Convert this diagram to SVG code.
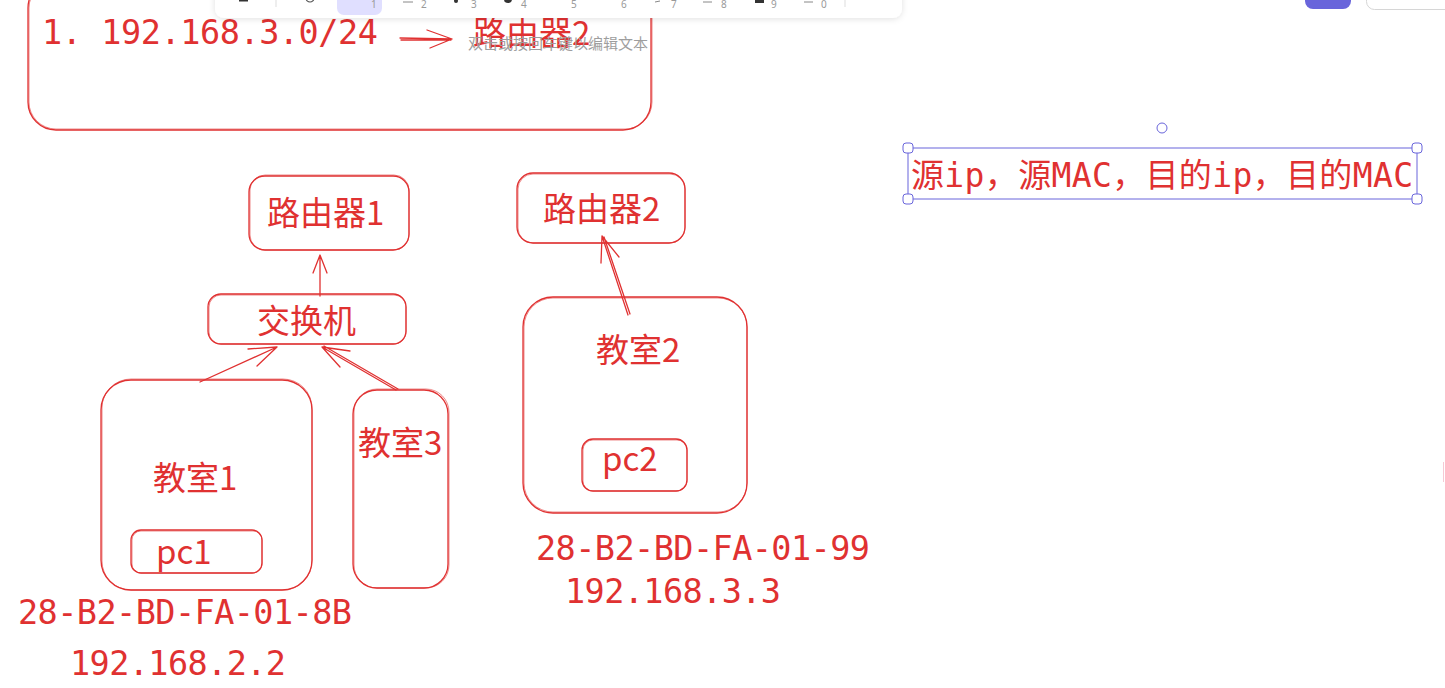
<svg xmlns="http://www.w3.org/2000/svg" width="1445" height="688" viewBox="0 0 1445 688">
<defs>
<style>
.s{fill:none;stroke:#e03131;stroke-width:1.3;stroke-linecap:round;stroke-linejoin:round}
.s2{fill:none;stroke:#e03131;stroke-width:0.8;opacity:.7}
.c{fill:none;stroke:#e03131;stroke-width:1.3;stroke-linecap:round;stroke-linejoin:round}
.cj{font-family:"Noto Sans CJK SC","Noto Sans",sans-serif;fill:#e03131}
.mo{font-family:"DejaVu Sans Mono","Noto Sans CJK SC",monospace;fill:#e03131}
.num{font-family:"Noto Sans","Liberation Sans",sans-serif;font-size:10px;fill:#9a9a9a}
.hd{fill:#fff;stroke:#6965db;stroke-width:1}
</style>
<filter id="sh" x="-5%" y="-60%" width="110%" height="260%">
<feDropShadow dx="0" dy="1" stdDeviation="3" flood-color="#000" flood-opacity="0.12"/>
</filter>
</defs>
<rect width="1445" height="688" fill="#fff"/>

<g id="note-top">
<rect class="s" x="28" y="-20" width="623" height="150" rx="28"/>
<rect class="s2" x="29" y="-19" width="623" height="148" rx="27"/>
<text class="mo" x="42" y="44" font-size="33.5" textLength="336">1. 192.168.3.0/24</text>
<text class="cj" x="473" y="45" font-size="33">路由器2</text>
<text x="468" y="49" font-size="15" fill="#9e9e9e" font-family="Noto Sans CJK SC, sans-serif">双击或按回车键以编辑文本</text>
</g>

<g id="router1">
<rect class="s" x="249" y="176" width="160" height="74" rx="16"/>
<rect class="s2" x="250" y="175" width="159" height="75" rx="15"/>
<text class="cj" x="267" y="225" font-size="33">路由器1</text>
</g>

<g id="switch">
<rect class="s" x="208" y="294" width="198" height="50" rx="13"/>
<rect class="s2" x="209" y="295" width="197" height="49" rx="12"/>
<text class="cj" x="257" y="333" font-size="33">交换机</text>
</g>

<g id="room1">
<rect class="s" x="101" y="380" width="211" height="210" rx="30"/>
<rect class="s2" x="102" y="379" width="210" height="211" rx="29"/>
<text class="cj" x="153" y="490" font-size="33">教室1</text>
</g>

<g id="pc1">
<rect class="s" x="131" y="530" width="131" height="43" rx="10"/>
<rect class="s2" x="132" y="531" width="130" height="42" rx="9"/>
<text class="cj" x="156" y="564" font-size="33">pc1</text>
</g>

<g id="room3">
<rect class="s" x="353" y="390" width="95" height="198" rx="24"/>
<rect class="s2" x="354" y="389" width="95" height="199" rx="23"/>
<text class="cj" x="358" y="455" font-size="33">教室3</text>
</g>

<g id="label-pc1">
<text class="mo" x="18" y="624" font-size="33.5" textLength="334">28-B2-BD-FA-01-8B</text>
<text class="mo" x="70" y="675" font-size="33.5" textLength="216">192.168.2.2</text>
</g>

<g id="router2">
<rect class="s" x="517" y="173" width="168" height="70" rx="16"/>
<rect class="s2" x="518" y="174" width="167" height="69" rx="15"/>
<text class="cj" x="543" y="221" font-size="33">路由器2</text>
</g>

<g id="room2">
<rect class="s" x="523" y="297" width="224" height="216" rx="30"/>
<rect class="s2" x="524" y="298" width="223" height="214" rx="29"/>
<text class="cj" x="596" y="362" font-size="33">教室2</text>
</g>

<g id="pc2">
<rect class="s" x="582" y="439" width="105" height="52" rx="11"/>
<rect class="s2" x="583" y="440" width="104" height="51" rx="10"/>
<text class="cj" x="602" y="471" font-size="33">pc2</text>
</g>

<g id="label-pc2">
<text class="mo" x="536" y="560" font-size="33.5" textLength="334">28-B2-BD-FA-01-99</text>
<text class="mo" x="565" y="603" font-size="33.5" textLength="216">192.168.3.3</text>
</g>

<g id="connectors">
<path class="c" d="M400 38 L452 39 M401 40 L451 40 M427 30 L452 39 L430 48"/>
<path class="c" d="M320 296 L320 256 M313 273 L320 255 L327 273"/>
<path class="c" d="M200 382 L277 347 M248 349 L277 347 L257 366"/>
<path class="c" d="M396 390 L322 347 M398 389 L324 346 M350 351 L322 347 L340 367"/>
<path class="c" d="M628 315 L602 236 M630 314 L604 237 M601 263 L602 236 L619 257"/>
</g>

<g id="selected-text">
<rect x="908" y="148" width="509" height="51" fill="none" stroke="#6965db" stroke-width="1"/>
<text class="mo" x="911" y="187" font-size="33" textLength="502">源ip，源MAC，目的ip，目的MAC</text>
<rect class="hd" x="903" y="143" width="10" height="10" rx="3"/>
<rect class="hd" x="1412" y="143" width="10" height="10" rx="3"/>
<rect class="hd" x="903" y="194" width="10" height="10" rx="3"/>
<rect class="hd" x="1412" y="194" width="10" height="10" rx="3"/>
<circle class="hd" cx="1162" cy="128" r="5"/>
</g>

<g id="toolbar">
<rect x="215" y="-30" width="687" height="48" rx="9" fill="#fff" filter="url(#sh)"/>
<rect x="337" y="-12" width="45" height="27" rx="7" fill="#e0dfff"/>
<line x1="276" y1="0" x2="276" y2="7" stroke="#ddd" stroke-width="1"/>
<line x1="845" y1="0" x2="845" y2="7" stroke="#ddd" stroke-width="1"/>
<rect x="239" y="0" width="9" height="1.5" fill="#333"/>
<circle cx="310" cy="-2" r="4" fill="none" stroke="#555" stroke-width="1.2"/>
<line x1="403" y1="2" x2="413" y2="2" stroke="#888" stroke-width="1"/>
<circle cx="456" cy="1" r="2" fill="#333"/>
<circle cx="508" cy="-1" r="4" fill="#333"/>
<line x1="655" y1="2" x2="660" y2="1" stroke="#888" stroke-width="1"/>
<line x1="703" y1="2" x2="712" y2="2" stroke="#888" stroke-width="1"/>
<rect x="755" y="-4" width="9" height="7" fill="#333"/>
<line x1="804" y1="2" x2="813" y2="2" stroke="#888" stroke-width="1"/>
<text class="num" x="371" y="8">1</text>
<text class="num" x="421" y="8">2</text>
<text class="num" x="471" y="8">3</text>
<text class="num" x="521" y="8">4</text>
<text class="num" x="571" y="8">5</text>
<text class="num" x="621" y="8">6</text>
<text class="num" x="671" y="8">7</text>
<text class="num" x="721" y="8">8</text>
<text class="num" x="771" y="8">9</text>
<text class="num" x="821" y="8">0</text>
</g>

<g id="top-right-ui">
<rect x="1305" y="-20" width="46" height="29" rx="8" fill="#6965db"/>
<rect x="1366.5" y="-20" width="100" height="29.5" rx="8" fill="#fff" stroke="#d6d6d6" stroke-width="1"/>
<line x1="1443.5" y1="462" x2="1443.5" y2="482" stroke="#f6c9d4" stroke-width="1"/>
</g>
</svg>
